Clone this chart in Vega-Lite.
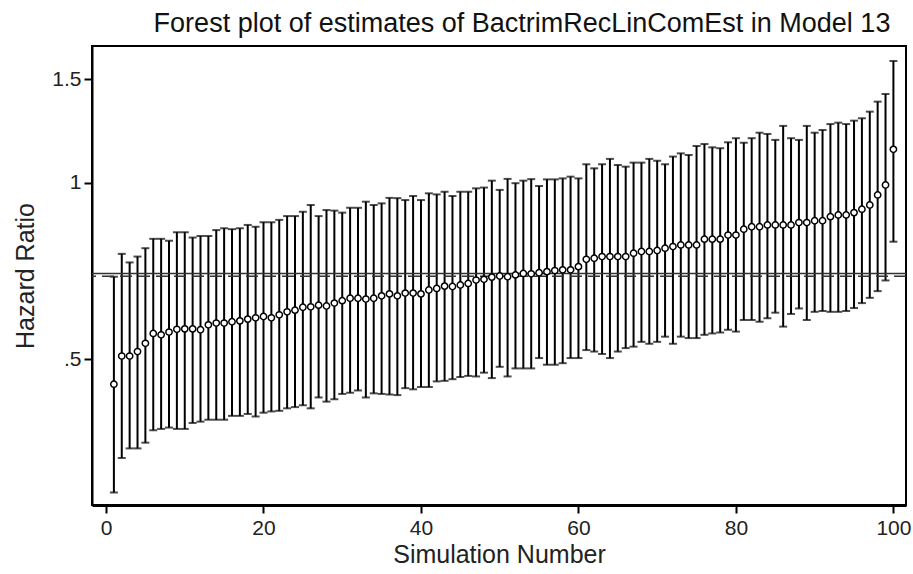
{
  "$schema": "https://vega.github.io/schema/vega-lite/v6.json",
  "width": 814,
  "height": 459,
  "autosize": {"type": "none"},
  "padding": {"left": 92, "top": 46, "right": 7, "bottom": 69},
  "background": "white",
  "config": {
    "font": "Liberation Sans",
    "view": {"stroke": "#000", "strokeWidth": 2},
    "axis": {"grid": false, "domainColor": "#000", "tickColor": "#000", "labelColor": "#222", "titleColor": "#222", "labelFont": "Liberation Sans", "titleFont": "Liberation Sans", "titleFontWeight": "normal"}
  },
  "title": {"text": "Forest plot of estimates of BactrimRecLinComEst in Model 13", "fontSize": 27, "fontWeight": "normal", "color": "#111", "anchor": "middle", "dx": 23, "offset": 8, "font": "Liberation Sans"},
  "datasets": {
    "sims": [
      {"sim":1,"est":0.453,"lo":0.296,"hi":0.691},
      {"sim":2,"est":0.506,"lo":0.339,"hi":0.756},
      {"sim":3,"est":0.506,"lo":0.352,"hi":0.731},
      {"sim":4,"est":0.515,"lo":0.352,"hi":0.748},
      {"sim":5,"est":0.532,"lo":0.360,"hi":0.773},
      {"sim":6,"est":0.553,"lo":0.378,"hi":0.802},
      {"sim":7,"est":0.550,"lo":0.380,"hi":0.802},
      {"sim":8,"est":0.556,"lo":0.382,"hi":0.796},
      {"sim":9,"est":0.562,"lo":0.380,"hi":0.823},
      {"sim":10,"est":0.563,"lo":0.380,"hi":0.823},
      {"sim":11,"est":0.563,"lo":0.389,"hi":0.806},
      {"sim":12,"est":0.561,"lo":0.391,"hi":0.811},
      {"sim":13,"est":0.572,"lo":0.394,"hi":0.811},
      {"sim":14,"est":0.576,"lo":0.394,"hi":0.830},
      {"sim":15,"est":0.576,"lo":0.394,"hi":0.836},
      {"sim":16,"est":0.579,"lo":0.400,"hi":0.833},
      {"sim":17,"est":0.581,"lo":0.400,"hi":0.836},
      {"sim":18,"est":0.585,"lo":0.403,"hi":0.847},
      {"sim":19,"est":0.588,"lo":0.399,"hi":0.841},
      {"sim":20,"est":0.591,"lo":0.405,"hi":0.856},
      {"sim":21,"est":0.588,"lo":0.407,"hi":0.856},
      {"sim":22,"est":0.595,"lo":0.408,"hi":0.864},
      {"sim":23,"est":0.602,"lo":0.412,"hi":0.877},
      {"sim":24,"est":0.606,"lo":0.414,"hi":0.877},
      {"sim":25,"est":0.613,"lo":0.417,"hi":0.892},
      {"sim":26,"est":0.614,"lo":0.412,"hi":0.916},
      {"sim":27,"est":0.618,"lo":0.430,"hi":0.877},
      {"sim":28,"est":0.616,"lo":0.423,"hi":0.898},
      {"sim":29,"est":0.623,"lo":0.427,"hi":0.896},
      {"sim":30,"est":0.629,"lo":0.436,"hi":0.889},
      {"sim":31,"est":0.635,"lo":0.438,"hi":0.906},
      {"sim":32,"est":0.635,"lo":0.442,"hi":0.906},
      {"sim":33,"est":0.633,"lo":0.430,"hi":0.928},
      {"sim":34,"est":0.635,"lo":0.437,"hi":0.916},
      {"sim":35,"est":0.641,"lo":0.436,"hi":0.922},
      {"sim":36,"est":0.646,"lo":0.435,"hi":0.942},
      {"sim":37,"est":0.641,"lo":0.434,"hi":0.941},
      {"sim":38,"est":0.648,"lo":0.446,"hi":0.934},
      {"sim":39,"est":0.648,"lo":0.444,"hi":0.949},
      {"sim":40,"est":0.646,"lo":0.448,"hi":0.934},
      {"sim":41,"est":0.656,"lo":0.448,"hi":0.959},
      {"sim":42,"est":0.660,"lo":0.458,"hi":0.955},
      {"sim":43,"est":0.666,"lo":0.459,"hi":0.965},
      {"sim":44,"est":0.665,"lo":0.462,"hi":0.949},
      {"sim":45,"est":0.669,"lo":0.466,"hi":0.965},
      {"sim":46,"est":0.673,"lo":0.468,"hi":0.965},
      {"sim":47,"est":0.682,"lo":0.467,"hi":0.978},
      {"sim":48,"est":0.684,"lo":0.474,"hi":0.981},
      {"sim":49,"est":0.690,"lo":0.464,"hi":1.008},
      {"sim":50,"est":0.693,"lo":0.485,"hi":0.972},
      {"sim":51,"est":0.691,"lo":0.467,"hi":1.015},
      {"sim":52,"est":0.696,"lo":0.482,"hi":0.998},
      {"sim":53,"est":0.700,"lo":0.482,"hi":1.008},
      {"sim":54,"est":0.699,"lo":0.482,"hi":1.014},
      {"sim":55,"est":0.702,"lo":0.502,"hi":0.987},
      {"sim":56,"est":0.705,"lo":0.489,"hi":1.013},
      {"sim":57,"est":0.708,"lo":0.489,"hi":1.013},
      {"sim":58,"est":0.710,"lo":0.492,"hi":1.017},
      {"sim":59,"est":0.710,"lo":0.502,"hi":1.024},
      {"sim":60,"est":0.719,"lo":0.502,"hi":1.017},
      {"sim":61,"est":0.740,"lo":0.518,"hi":1.075},
      {"sim":62,"est":0.743,"lo":0.515,"hi":1.058},
      {"sim":63,"est":0.748,"lo":0.510,"hi":1.075},
      {"sim":64,"est":0.748,"lo":0.502,"hi":1.098},
      {"sim":65,"est":0.748,"lo":0.515,"hi":1.072},
      {"sim":66,"est":0.748,"lo":0.522,"hi":1.065},
      {"sim":67,"est":0.758,"lo":0.525,"hi":1.082},
      {"sim":68,"est":0.763,"lo":0.535,"hi":1.082},
      {"sim":69,"est":0.763,"lo":0.531,"hi":1.098},
      {"sim":70,"est":0.766,"lo":0.535,"hi":1.090},
      {"sim":71,"est":0.773,"lo":0.546,"hi":1.075},
      {"sim":72,"est":0.778,"lo":0.531,"hi":1.108},
      {"sim":73,"est":0.783,"lo":0.546,"hi":1.122},
      {"sim":74,"est":0.783,"lo":0.543,"hi":1.115},
      {"sim":75,"est":0.783,"lo":0.543,"hi":1.155},
      {"sim":76,"est":0.801,"lo":0.550,"hi":1.164},
      {"sim":77,"est":0.801,"lo":0.553,"hi":1.149},
      {"sim":78,"est":0.801,"lo":0.555,"hi":1.145},
      {"sim":79,"est":0.814,"lo":0.561,"hi":1.172},
      {"sim":80,"est":0.814,"lo":0.557,"hi":1.191},
      {"sim":81,"est":0.833,"lo":0.583,"hi":1.170},
      {"sim":82,"est":0.841,"lo":0.583,"hi":1.191},
      {"sim":83,"est":0.841,"lo":0.579,"hi":1.217},
      {"sim":84,"est":0.847,"lo":0.587,"hi":1.211},
      {"sim":85,"est":0.847,"lo":0.600,"hi":1.183},
      {"sim":86,"est":0.847,"lo":0.568,"hi":1.250},
      {"sim":87,"est":0.847,"lo":0.597,"hi":1.191},
      {"sim":88,"est":0.855,"lo":0.610,"hi":1.183},
      {"sim":89,"est":0.855,"lo":0.583,"hi":1.250},
      {"sim":90,"est":0.861,"lo":0.602,"hi":1.217},
      {"sim":91,"est":0.861,"lo":0.604,"hi":1.230},
      {"sim":92,"est":0.875,"lo":0.602,"hi":1.259},
      {"sim":93,"est":0.881,"lo":0.602,"hi":1.266},
      {"sim":94,"est":0.881,"lo":0.604,"hi":1.259},
      {"sim":95,"est":0.889,"lo":0.611,"hi":1.276},
      {"sim":96,"est":0.901,"lo":0.623,"hi":1.288},
      {"sim":97,"est":0.916,"lo":0.636,"hi":1.322},
      {"sim":98,"est":0.953,"lo":0.653,"hi":1.375},
      {"sim":99,"est":0.991,"lo":0.681,"hi":1.417},
      {"sim":100,"est":1.140,"lo":0.793,"hi":1.613}
    ],
    "refs": [
      {"ref": 0.7, "kind": "solid"},
      {"ref": 0.692, "kind": "dashed"}
    ]
  },
  "data": {"name": "sims"},
  "layer": [
    {
      "mark": {"type": "rule", "color": "#000", "strokeWidth": 2},
      "encoding": {
        "x": {"field": "sim", "type": "quantitative", "scale": {"domain": [-1.78, 101.6], "nice": false, "zero": false},
          "axis": {"title": "Simulation Number", "values": [0, 20, 40, 60, 80, 100], "format": "d", "tickSize": 8, "tickWidth": 2, "domainWidth": 3, "labelFontSize": 21, "titleFontSize": 25, "labelPadding": 4, "titlePadding": 4}},
        "y": {"field": "lo", "type": "quantitative", "scale": {"type": "log", "domain": [0.2818, 1.711], "nice": false, "zero": false},
          "axis": {"title": "Hazard Ratio", "values": [0.5, 1, 1.5], "format": ".2~f", "labelExpr": "datum.value == 0.5 ? '.5' : datum.label", "tickSize": 8, "tickWidth": 2, "domainWidth": 2, "labelFontSize": 21, "titleFontSize": 25, "labelPadding": 3, "titlePadding": 13}},
        "y2": {"field": "hi"}
      }
    },
    {
      "mark": {"type": "tick", "orient": "horizontal", "color": "#000", "size": 8, "thickness": 2},
      "encoding": {
        "x": {"field": "sim", "type": "quantitative"},
        "y": {"field": "lo", "type": "quantitative"}
      }
    },
    {
      "mark": {"type": "tick", "orient": "horizontal", "color": "#000", "size": 8, "thickness": 2},
      "encoding": {
        "x": {"field": "sim", "type": "quantitative"},
        "y": {"field": "hi", "type": "quantitative"}
      }
    },
    {
      "data": {"name": "refs"},
      "transform": [{"filter": "datum.kind == 'solid'"}],
      "mark": {"type": "rule", "color": "#333", "strokeWidth": 1.5},
      "encoding": {"y": {"field": "ref", "type": "quantitative"}}
    },
    {
      "data": {"name": "refs"},
      "transform": [{"filter": "datum.kind == 'dashed'"}],
      "mark": {"type": "rule", "color": "#333", "strokeWidth": 1.5, "strokeDash": [12, 6]},
      "encoding": {"y": {"field": "ref", "type": "quantitative"}}
    },
    {
      "mark": {"type": "point", "shape": "circle", "filled": false, "fill": "white", "fillOpacity": 1, "stroke": "#000", "strokeWidth": 1.5, "size": 40, "opacity": 1},
      "encoding": {
        "x": {"field": "sim", "type": "quantitative"},
        "y": {"field": "est", "type": "quantitative"}
      }
    }
  ]
}
